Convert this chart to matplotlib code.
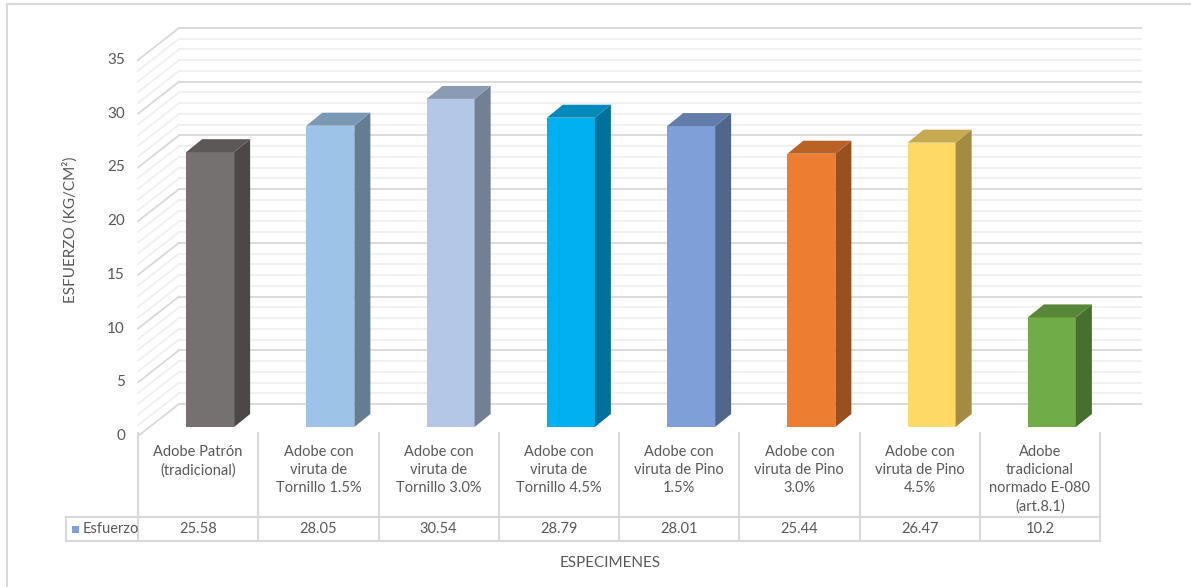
#!/usr/bin/env python3
"""Excel-style 3D column chart with a data table underneath."""

import numpy as np
import matplotlib.pyplot as plt
from matplotlib.patches import Polygon, Rectangle
from matplotlib.colors import to_rgb

plt.rcParams["font.family"] = ["Lato", "DejaVu Sans"]

categories = [
    "Adobe Patrón\n(tradicional)",
    "Adobe con\nviruta de\nTornillo 1.5%",
    "Adobe con\nviruta de\nTornillo 3.0%",
    "Adobe con\nviruta de\nTornillo 4.5%",
    "Adobe con\nviruta de Pino\n1.5%",
    "Adobe con\nviruta de Pino\n3.0%",
    "Adobe con\nviruta de Pino\n4.5%",
    "Adobe\ntradicional\nnormado E-080\n(art.8.1)",
]
esfuerzo = [25.58, 28.05, 30.54, 28.79, 28.01, 25.44, 26.47, 10.2]
bar_colors = ["#767171", "#9dc3e6", "#b4c7e7", "#00b0f0",
              "#7f9fd9", "#ed7d31", "#ffd966", "#70ad47"]
y_ticks = [0, 5, 10, 15, 20, 25, 30, 35]
series_name = "Esfuerzo"

TEXT = "#595959"
GRID_MAJOR = "#d9d9d9"
GRID_MINOR = "#f0f0f0"

W, H, DPI = 1191, 587, 100
fig = plt.figure(figsize=(W / DPI, H / DPI), dpi=DPI)

# front plane of the 3D box, in pixels
X0, X1 = 138, 1100
Y0, Y35 = 436, 60
ax = fig.add_axes([X0 / W, (H - Y0) / H, (X1 - X0) / W, (Y0 - Y35) / H])
ax.set_xlim(-0.5, len(categories) - 0.5)
ax.set_ylim(0, 35)
ax.axis("off")

sx = (X1 - X0) / len(categories)  # px per category
sy = (Y0 - Y35) / 35.0            # px per unit


def dpx(px, py):
    """pixel offset (right, up) -> data offset"""
    return px / sx, py / sy


def ypix(pix):
    """image row -> data y"""
    return (Y0 - pix) / sy


def shade(c, f):
    return tuple(np.clip(np.array(to_rgb(c)) * f, 0, 1))


# back wall + side wall gridlines
bx, by = dpx(41, 32)
for v in np.arange(0, 36, 1):
    major = v % 5 == 0
    col = GRID_MAJOR if major else GRID_MINOR
    z = 1 if major else 0
    ax.plot([-0.5 + bx, len(categories) - 0.5 + bx], [v + by, v + by],
            color=col, lw=1.3, clip_on=False, zorder=z)
    ax.plot([-0.5, -0.5 + bx], [v, v + by],
            color=col, lw=1.3, clip_on=False, zorder=z)

# y tick labels on the front plane
for t in y_ticks:
    ax.text(-0.5 - 13 / sx, t, str(t), ha="right", va="center",
            fontsize=11, color=TEXT)

# bars
fx, fy = dpx(12, 9)     # bar front face sits a bit back from the front plane
ddx, ddy = dpx(16, 13)  # depth of each bar
bw = 48 / sx
for i, (v, c) in enumerate(zip(esfuerzo, bar_colors)):
    xl = i - bw / 2 + fx
    xr = i + bw / 2 + fx
    yb, yt = fy, v + fy
    ax.add_patch(Rectangle((xl, yb), bw, v, facecolor=c, edgecolor="none",
                           zorder=5, clip_on=False))
    side = [(xr, yb), (xr + ddx, yb + ddy), (xr + ddx, yt + ddy), (xr, yt)]
    ax.add_patch(Polygon(side, closed=True, facecolor=shade(c, 0.64),
                         edgecolor="none", zorder=5, clip_on=False))
    top = [(xl, yt), (xr, yt), (xr + ddx, yt + ddy), (xl + ddx, yt + ddy)]
    ax.add_patch(Polygon(top, closed=True, facecolor=shade(c, 0.78),
                         edgecolor="none", zorder=5, clip_on=False))

# data table
row_top, row_bot = ypix(517), ypix(541)
head_top = ypix(433)
left = -0.5 - 72 / sx
n = len(categories)
line_kw = dict(color=GRID_MAJOR, lw=1.5, clip_on=False, zorder=2)
for k in range(n + 1):
    ax.plot([k - 0.5, k - 0.5], [head_top, row_bot], **line_kw)
ax.plot([left, n - 0.5], [row_top, row_top], **line_kw)
ax.plot([left, n - 0.5], [row_bot, row_bot], **line_kw)
ax.plot([left, left], [row_top, row_bot], **line_kw)

for i, (lab, v) in enumerate(zip(categories, esfuerzo)):
    ax.text(i, ypix(445), lab, ha="center", va="top", fontsize=10.5,
            color=TEXT, linespacing=1.36)
    ax.text(i, (row_top + row_bot) / 2, f"{v:g}", ha="center", va="center",
            fontsize=10.5, color=TEXT)

# legend key in row header
kx = left + 6 / sx
ax.add_patch(Rectangle((kx, ypix(533)), 7 / sx, 7 / sy, facecolor="#7f9fd9",
                       edgecolor="none", clip_on=False))
ax.text(kx + 11 / sx, (row_top + row_bot) / 2, series_name, ha="left",
        va="center", fontsize=10.5, color=TEXT)

# axis titles
fig.text(70 / W, 1 - 230 / H, "ESFUERZO (KG/CM²)", rotation=90, ha="center",
         va="center", fontsize=11, color=TEXT)
fig.text(610 / W, 1 - 563 / H, "ESPECIMENES", ha="center", va="center",
         fontsize=11, color=TEXT)

# outer chart frame
fig.add_artist(Rectangle((7 / W, -0.1), 1.2, 1 - 4 / H + 0.1,
                         transform=fig.transFigure, fill=False,
                         edgecolor=GRID_MAJOR, lw=1.5))

fig.savefig("out.png", dpi=DPI, facecolor="white")
